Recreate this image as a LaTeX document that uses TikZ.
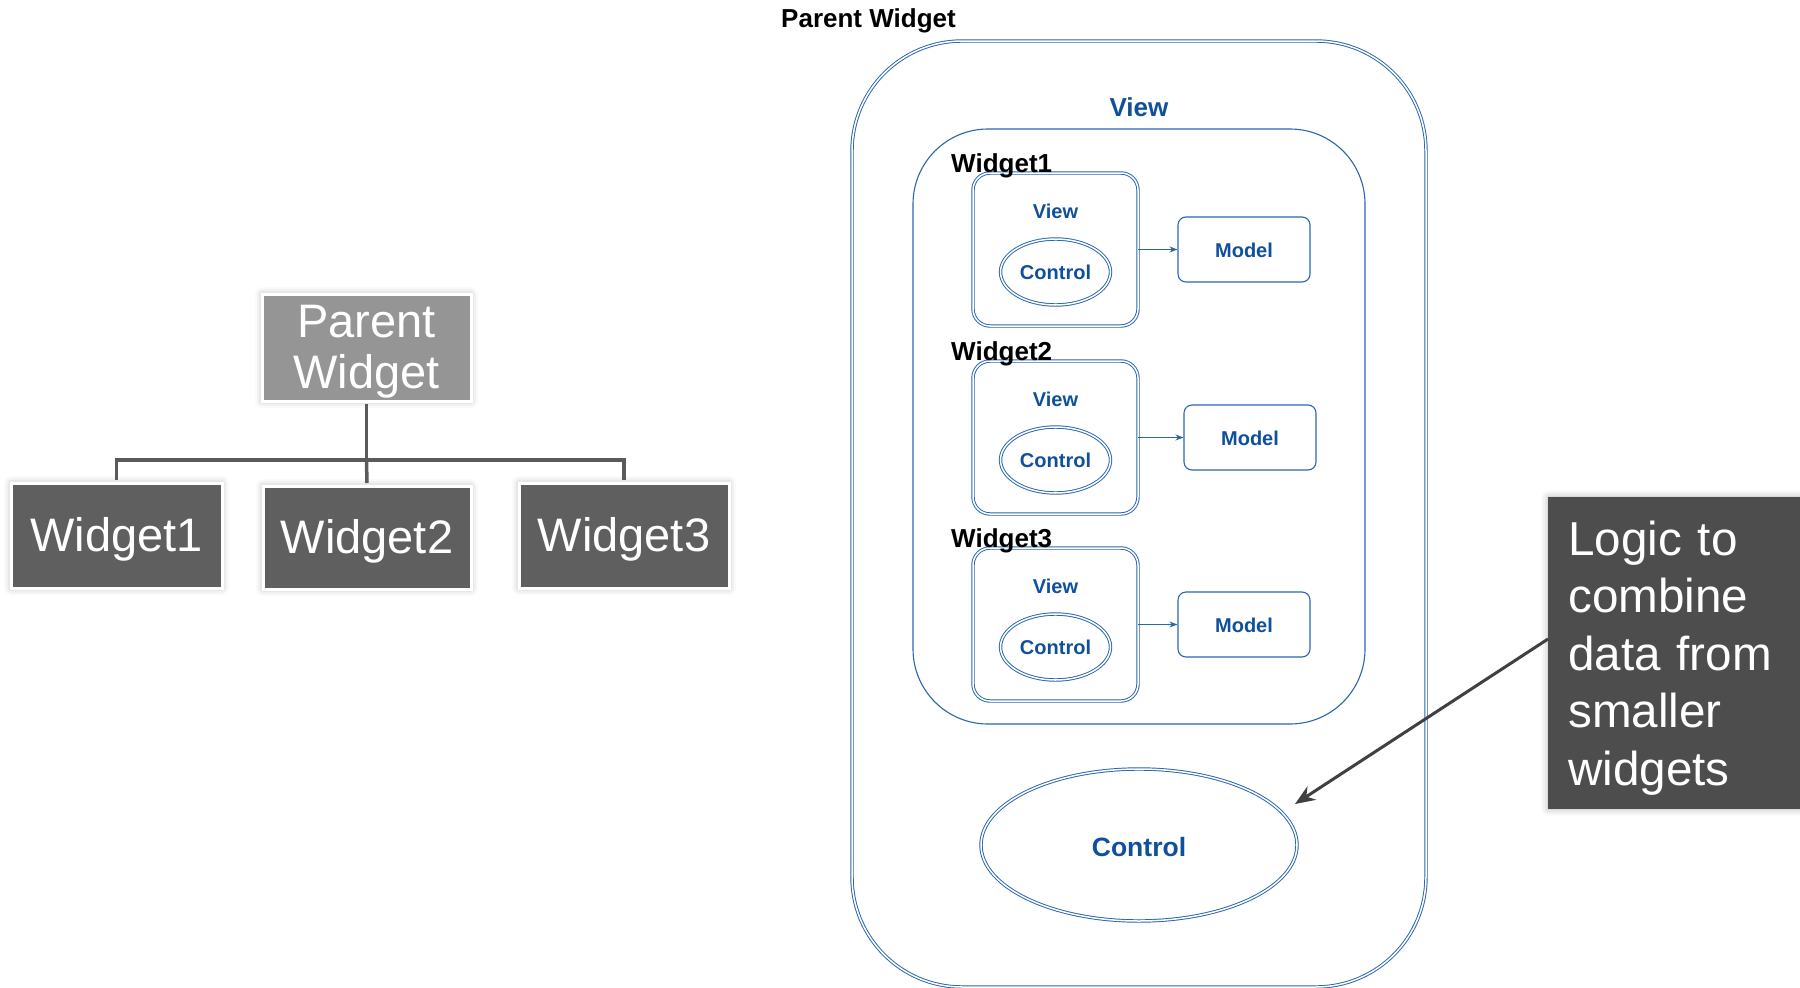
\documentclass[tikz,border=0pt]{standalone}
\usepackage{fontspec}
\setmainfont{Liberation Sans}
\usetikzlibrary{shapes.geometric,arrows.meta,shadows.blur,calc}

\definecolor{pgray}{HTML}{959595}
\definecolor{cgray}{HTML}{5F5F5F}
\definecolor{linkgray}{HTML}{5A5A5A}
\definecolor{notegray}{HTML}{4D4D4D}
\definecolor{arrowgray}{HTML}{404040}
\definecolor{bline}{HTML}{2A66B0}
\definecolor{btext}{HTML}{0F4F9C}

% strut that lowers the text of the hierarchy boxes a little
\newcommand{\boxstrut}{\rule{0pt}{41pt}}

\tikzset{
  softshadow/.style={blur shadow={shadow xshift=0pt, shadow yshift=0pt,
      shadow blur radius=7pt, shadow opacity=30}},
  treebox/.style={draw=white, line width=3pt, text=white, align=center,
      inner sep=0pt, font=\fontsize{47}{51}\selectfont, softshadow},
  treelink/.style={draw=linkgray, line width=3.5pt},
  dbl/.style={draw=bline, line width=0.95pt, double=white, double distance=1.5pt},
  single/.style={draw=bline, line width=1.1pt},
  smalltxt/.style={font=\bfseries\fontsize{20}{24}\selectfont, text=btext},
  wlabel/.style={font=\bfseries\fontsize{26}{30}\selectfont, inner sep=0pt},
  blink/.style={draw=bline, line width=1.2pt, -{Stealth[length=8pt,width=6pt]}},
  notearrow/.style={draw=arrowgray, line width=3pt, -{Stealth[length=20pt,width=16pt]}},
}

\begin{document}
\begin{tikzpicture}[x=1pt,y=-1pt]
\useasboundingbox (0,0) rectangle (1800,988);

% ---------- hierarchy ----------
\coordinate (bus) at (366.5,460);
\node[treebox, fill=pgray, minimum width=209, minimum height=107] (pw) at (366.5,347.5) {\boxstrut Parent\\Widget};
\node[treebox, fill=cgray, minimum width=211, minimum height=105] (w1) at (116.5,535.5) {\boxstrut Widget1};
\node[treebox, fill=cgray, minimum width=208, minimum height=103] (w2) at (367,537.5) {\boxstrut Widget2};
\node[treebox, fill=cgray, minimum width=210, minimum height=105] (w3) at (624,535.5) {\boxstrut Widget3};
\draw[treelink, shorten <=1.5pt] (pw.south) -- (bus);
\draw[treelink, shorten <=1.5pt, shorten >=1.5pt] (w1.north) |- (bus) -| (w3.north);
\draw[treelink, shorten >=1.5pt] (bus) -- (w2.north);

% ---------- composite widget ----------
\node[dbl, rounded corners=110, minimum width=574, minimum height=946] (pout) at (1139,514) {};
\node[wlabel, anchor=west] (ptitle) at (781,21) {Parent Widget};
\node[single, rounded corners=75, minimum width=452, minimum height=595] (vout) at (1139,426.5) {};
\node[font=\bfseries\fontsize{26}{30}\selectfont, text=btext] (vtitle) at (1139,107.5) {View};

\foreach \i/\y/\mx in {1/249.5/1244, 2/437.5/1250, 3/624.5/1244}{
  \node[dbl, rounded corners=17, minimum width=165, minimum height=153] (box\i) at (1055.5,\y) {};
  \node[smalltxt] (view\i) at (1055.5,\y-38.5) {View};
  \node[dbl, ellipse, inner sep=0pt, minimum width=110, minimum height=66, smalltxt] (ctl\i) at (1055.5,\y+22.5) {Control};
  \node[single, rounded corners=8, minimum width=132, minimum height=65, smalltxt] (model\i) at (\mx,\y) {\rule{0pt}{16pt}Model};
  \draw[blink] (box\i.east) -- (model\i.west);
  \node[wlabel, anchor=west] (wl\i) at (951,\y-84) {Widget\i};
}

\node[dbl, ellipse, inner sep=0pt, minimum width=316, minimum height=152,
      font=\bfseries\fontsize{26.5}{30}\selectfont, text=btext] (bigctl) at (1139,845) {\rule{0pt}{23pt}Control};

% ---------- note ----------
\node[fill=notegray, text=white, anchor=north west, minimum height=312, text width=220,
      inner xsep=20pt, inner ysep=0pt, align=left, font=\fontsize{47.6}{57.6}\selectfont,
      softshadow] (note) at (1548,497) {\rule{0pt}{44pt}Logic to\\combine\\data from\\smaller\\widgets};
\coordinate (tip) at (1295,804);
\draw[notearrow] ($(note.north west)+(0,142)$) -- (tip);
\end{tikzpicture}
\end{document}
